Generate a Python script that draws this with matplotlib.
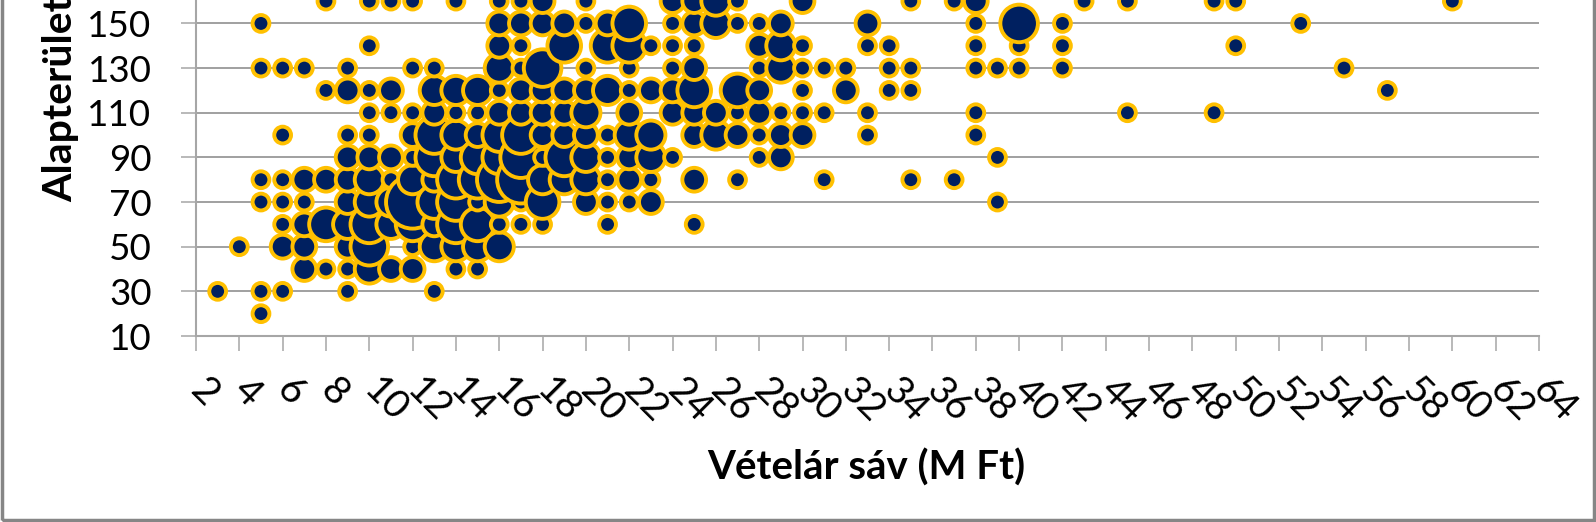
import matplotlib
matplotlib.use('Agg')
import matplotlib.pyplot as plt
from matplotlib.patches import Rectangle
from matplotlib.transforms import ScaledTranslation
import numpy as np

plt.rcParams['font.family'] = ['Lato', 'DejaVu Sans']

# Data: price band, floor area, number of flats
price = [3, 4,
         5, 5, 5, 5, 5, 5,
         6, 6, 6, 6, 6, 6, 6,
         7, 7, 7, 7, 7, 7,
         8, 8, 8, 8, 8,
         9, 9, 9, 9, 9, 9, 9, 9, 9, 9,
         10, 10, 10, 10, 10, 10, 10, 10, 10, 10, 10,
         11, 11, 11, 11, 11, 11, 11, 11,
         12, 12, 12, 12, 12, 12, 12, 12, 12, 12,
         13, 13, 13, 13, 13, 13, 13, 13, 13, 13,
         14, 14, 14, 14, 14, 14, 14, 14, 14, 14,
         15, 15, 15, 15, 15, 15, 15, 15, 15,
         16, 16, 16, 16, 16, 16, 16, 16, 16, 16, 16, 16,
         17, 17, 17, 17, 17, 17, 17, 17, 17, 17, 17,
         18, 18, 18, 18, 18, 18, 18, 18, 18, 18,
         19, 19, 19, 19, 19, 19, 19,
         20, 20, 20, 20, 20, 20, 20, 20, 20,
         21, 21, 21, 21, 21, 21, 21, 21,
         22, 22, 22, 22, 22, 22, 22, 22, 22,
         23, 23, 23, 23, 23, 23,
         24, 24, 24, 24, 24, 24, 24,
         25, 25, 25, 25, 25, 25, 25, 25, 25,
         26, 26, 26, 26,
         27, 27, 27, 27, 27, 27,
         28, 28, 28, 28, 28, 28, 28,
         29, 29, 29, 29, 29, 29,
         30, 30, 30, 30, 30, 30,
         31, 31, 31,
         32, 32, 33, 33, 33, 33,
         34, 34, 34, 35, 35, 35, 35,
         37, 37, 38, 38, 38, 38, 38, 38,
         39, 39, 39, 40, 40, 40,
         42, 42, 42, 43, 45, 45,
         49, 49, 50, 50, 53, 55, 57, 60]
area = [30, 50,
        20, 30, 70, 80, 130, 150,
        30, 50, 60, 70, 80, 100, 130,
        40, 50, 60, 70, 80, 130,
        40, 60, 80, 120, 160,
        30, 40, 50, 60, 70, 80, 90, 100, 120, 130,
        40, 50, 60, 70, 80, 90, 100, 110, 120, 140, 160,
        40, 60, 70, 80, 90, 110, 120, 160,
        40, 50, 60, 70, 80, 90, 100, 110, 130, 160,
        30, 50, 60, 70, 80, 90, 100, 110, 120, 130,
        40, 50, 60, 70, 80, 90, 100, 110, 120, 160,
        40, 50, 60, 70, 80, 90, 100, 110, 120,
        50, 60, 70, 80, 90, 100, 110, 120, 130, 140, 150, 160,
        60, 70, 80, 90, 100, 110, 120, 130, 140, 150, 160,
        60, 70, 80, 90, 100, 110, 120, 130, 150, 160,
        80, 90, 100, 110, 120, 140, 150,
        70, 80, 90, 100, 110, 120, 130, 150, 160,
        60, 70, 80, 90, 100, 120, 140, 150,
        70, 80, 90, 100, 110, 120, 130, 140, 150,
        70, 80, 90, 100, 120, 140,
        90, 110, 120, 130, 140, 150, 160,
        60, 80, 100, 110, 120, 130, 140, 150, 160,
        100, 110, 150, 160,
        80, 100, 110, 120, 150, 160,
        90, 100, 110, 120, 130, 140, 150,
        90, 100, 110, 130, 140, 150,
        100, 110, 120, 130, 140, 160,
        80, 110, 130,
        120, 130, 100, 110, 140, 150,
        120, 130, 140, 80, 120, 130, 160,
        80, 160, 100, 110, 130, 140, 150, 160,
        70, 90, 130, 130, 140, 150,
        130, 140, 150, 160, 110, 160,
        110, 160, 140, 160, 150, 130, 120, 160]
count = [1, 1,
         1, 1, 1, 1, 1, 1,
         1, 2, 1, 1, 1, 1, 1,
         2, 2, 2, 1, 2, 1,
         1, 4, 2, 1, 1,
         1, 1, 2, 3, 2, 2, 2, 1, 2, 1,
         3, 5, 5, 3, 3, 2, 1, 1, 1, 1, 1,
         2, 3, 3, 1, 2, 1, 2, 1,
         2, 1, 4, 10, 3, 1, 2, 1, 1, 1,
         1, 3, 2, 4, 2, 5, 5, 2, 3, 1,
         1, 3, 5, 5, 5, 3, 3, 1, 3, 1,
         1, 3, 4, 1, 5, 4, 2, 1, 3,
         3, 1, 3, 7, 4, 4, 2, 1, 3, 2, 2, 1,
         1, 1, 8, 6, 5, 2, 2, 1, 1, 2, 1,
         1, 4, 3, 1, 2, 2, 2, 5, 2, 2,
         3, 5, 2, 2, 2, 4, 2,
         2, 3, 3, 2, 3, 2, 1, 1, 1,
         1, 1, 1, 1, 1, 3, 4, 2,
         1, 2, 2, 3, 2, 1, 1, 4, 4,
         2, 1, 3, 3, 2, 1,
         1, 2, 2, 1, 1, 1, 2,
         1, 2, 2, 2, 4, 2, 1, 2, 2,
         3, 2, 3, 3,
         1, 2, 1, 4, 1, 1,
         1, 1, 2, 2, 1, 2, 1,
         2, 2, 1, 3, 3, 2,
         2, 1, 1, 1, 1, 2,
         1, 1, 1,
         2, 1, 1, 1, 1, 2,
         1, 1, 1, 1, 1, 1, 1,
         1, 1, 1, 1, 1, 1, 1, 2,
         1, 1, 1, 1, 1, 5,
         1, 1, 1, 1, 1, 1,
         1, 1, 1, 1, 1, 1, 1, 1]
xticks = list(range(2, 66, 2))
yticks = list(range(10, 160, 20))


def main():
    fig = plt.figure(figsize=(15.96, 5.22), dpi=100)
    ax = fig.add_axes([196 / 1596, 186 / 522, 1343 / 1596, 336 / 522])

    # bubble area goes with the count, radius in pixels converted to points
    sizes = (2 * 8.4 * np.sqrt(count) * 72 / 100) ** 2
    ax.scatter(price, area, s=sizes, color='#002060', edgecolor='#FFC000',
               linewidth=2.8, zorder=3, clip_on=False)

    ax.set_xlim(2, 64)
    ax.set_ylim(10, 160.5)
    ax.set_xticks(xticks)
    ax.set_yticks(yticks)
    ax.set_yticklabels(yticks, fontsize=26.5)
    ax.set_xticklabels(xticks, fontsize=28, rotation=-45, ha='left', va='center',
                       rotation_mode='anchor')
    offset = ScaledTranslation(-6 / 100, 0, fig.dpi_scale_trans)
    for label in ax.get_xticklabels():
        label.set_transform(label.get_transform() + offset)

    ax.grid(axis='y', color='#868686', linewidth=1.1, zorder=0)
    ax.set_axisbelow(True)
    for side in ['top', 'right']:
        ax.spines[side].set_visible(False)
    for side in ['left', 'bottom']:
        ax.spines[side].set_color('#A6A6A6')
        ax.spines[side].set_linewidth(1.5)
    ax.tick_params(axis='x', length=11, width=1.1, color='#A6A6A6', pad=24)
    ax.tick_params(axis='y', length=11, width=1.1, color='#A6A6A6', pad=21)

    fig.text(866 / 1596, 1 - 468 / 522, 'Vételár sáv (M Ft)', fontsize=29,
             fontweight='bold', ha='center', va='center')
    fig.text(61 / 1596, 1 - 202 / 522, 'Alapterület', fontsize=29.5,
             fontweight='bold', rotation=90, ha='center', va='bottom')

    # chart frame, its top edge lies outside the picture
    fig.add_artist(Rectangle((2 / 1596, 2.5 / 522), 1592 / 1596, 1.2, fill=False,
                             edgecolor='#868686', linewidth=2.5,
                             transform=fig.transFigure))

    fig.savefig('out.png', dpi=100)
    plt.close(fig)


if __name__ == "__main__":
    main()
